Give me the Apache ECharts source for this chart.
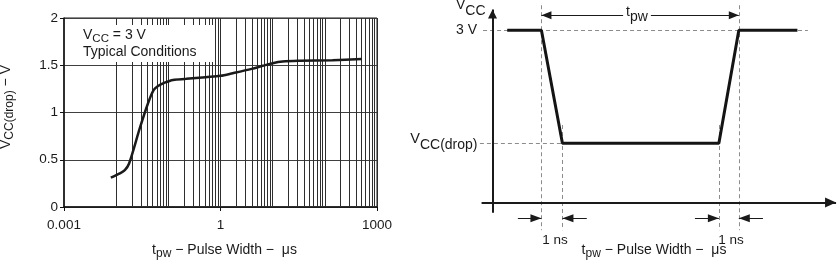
<!DOCTYPE html>
<html><head><meta charset="utf-8">
<script src="https://cdn.jsdelivr.net/npm/echarts@6/dist/echarts.min.js"></script>
<style>html,body{margin:0;padding:0;background:#fff}#c{width:837px;height:261px}</style>
</head><body><div id="c"></div>
<script>
// ---------- Left chart: V_CC(drop) vs pulse width ----------
const pulseWidth_us = [0.0079, 0.01175, 0.01465, 0.0177, 0.0283, 0.0408, 0.0525, 0.0635, 0.0851, 0.1228, 0.221, 0.517, 1.0, 1.72, 3.96, 6.43, 10, 15.5, 32.3, 140, 511];
const vccDrop_V    = [0.31, 0.355, 0.39, 0.46, 0.832, 1.098, 1.239, 1.281, 1.316, 1.345, 1.356, 1.374, 1.388, 1.416, 1.462, 1.494, 1.522, 1.539, 1.547, 1.554, 1.565];
const xTickValues = [0.001, 1, 1000];
const xTickLabels = ['0.001', '1', '1000'];
const yTickLabels = ['0', '0.5', '1', '1.5', '2'];
const decadeExponents = [-3, -2, -1, 0, 1, 2];
const decadeMultipliers = [1, 2, 3, 4, 5, 6, 7, 8, 9];

// ---------- Right diagram: V_CC pulse schematic ----------
const waveTime_ns = [0.7, 2.33, 3.33, 10.78, 11.73, 14.52];
const waveLevel_V = [3, 3, 1.03, 1.03, 3, 3];
const edgeTimes_ns = [2.33, 3.33, 10.78, 11.73];   // fall start, fall end, rise start, rise end
const vccLevel = 3, dropLevel = 1.03;

const FONT = 'Liberation Sans, Arial, Helvetica, sans-serif';
const INK = '#1a1a1a';

const gridValues = [];
decadeExponents.forEach(e => decadeMultipliers.forEach(m => {
  gridValues.push(Number((m * Math.pow(10, e)).toPrecision(6)));
}));
gridValues.push(1000);

const curve = pulseWidth_us.map((x, i) => [x, vccDrop_V[i]]);
const wave = waveTime_ns.map((t, i) => [t, waveLevel_V[i]]);

const [tF0, tF1, tR0, tR1] = edgeTimes_ns;
const dimY = -0.275, pwY = 3.26;
const dash = {type: [4, 3], color: '#8c8c8c', width: 1};
function seg(a, b, style) { return [{coord: a, lineStyle: style}, {coord: b}]; }
function arrowEnd(a, b, style, size) {
  return [{coord: a, lineStyle: style, symbol: 'none'},
          {coord: b, symbol: 'triangle', symbolSize: size, symbolOffset: [0, size[1] / 2]}];
}
function arrowBoth(a, b, style, size) {
  return [{coord: a, lineStyle: style, symbol: 'triangle', symbolSize: size, symbolOffset: [0, size[1] / 2]},
          {coord: b, symbol: 'triangle', symbolSize: size, symbolOffset: [0, size[1] / 2]}];
}
const solid1 = {type: 'solid', color: INK, width: 1};
const solid2 = {type: 'solid', color: INK, width: 2};

// subscript: pushed down by padding-top (shift = pad/2)
const sub = (fs, pad) => ({fontSize: fs, padding: [pad, 0, 0, 0], fontFamily: FONT, fill: INK, color: INK});
const main = (fs) => ({fontSize: fs, fontFamily: FONT, fill: INK, color: INK});

const chart = echarts.init(document.getElementById('c'), null, {renderer: 'canvas'});
chart.setOption({
  animation: false,
  backgroundColor: '#fff',
  grid: [
    {left: 64, top: 18, width: 313, height: 189, show: true, borderColor: '#1a1a1a', borderWidth: 1, containLabel: false, outerBoundsMode: 'none'},
    {left: 420, right: 0, top: 0, bottom: 0, show: false, containLabel: false, outerBoundsMode: 'none'}
  ],
  xAxis: [
    {type: 'log', logBase: 10, gridIndex: 0, min: 0.001, max: 1000,
     axisLine: {show: true, onZero: false, lineStyle: {color: '#111', width: 1.5}},
     axisTick: {show: true, customValues: xTickValues, length: 4, lineStyle: {color: '#111'}},
     axisLabel: {customValues: xTickValues, margin: 11, fontSize: 13.5, fontFamily: FONT, color: INK,
       formatter: v => { let best = 0; xTickValues.forEach((t, i) => { if (Math.abs(Math.log10(t) - Math.log10(v)) < Math.abs(Math.log10(xTickValues[best]) - Math.log10(v))) best = i; }); return xTickLabels[best]; }},
     splitLine: {show: false}, minorTick: {show: false}, minorSplitLine: {show: false}},
    {type: 'value', gridIndex: 1, min: -3.452, max: 16.405, show: false}
  ],
  yAxis: [
    {type: 'value', gridIndex: 0, min: 0, max: 2, interval: 0.5,
     axisLine: {show: true, onZero: false, lineStyle: {color: '#111', width: 1.5}},
     axisTick: {show: true, length: 4, lineStyle: {color: '#111'}},
     axisLabel: {margin: 6, fontSize: 13.5, fontFamily: FONT, color: INK, formatter: (v, i) => yTickLabels[i]},
     splitLine: {show: true, lineStyle: {color: '#404040', width: 1}}},
    {type: 'value', gridIndex: 1, min: -1.0186, max: 3.526, show: false}
  ],
  series: [
    {type: 'line', xAxisIndex: 0, yAxisIndex: 0, data: curve, smooth: 0.3, symbol: 'none', z: 10,
     lineStyle: {color: INK, width: 2.5},
     markLine: {silent: true, z: 3, symbol: 'none', animation: false, label: {show: false},
       lineStyle: {type: 'solid', color: '#2e2e2e', width: 1},
       data: gridValues.map(v => ({xAxis: v}))}},
    {type: 'line', xAxisIndex: 1, yAxisIndex: 1, data: wave, symbol: 'none', z: 10,
     lineStyle: {color: '#141414', width: 3},
     markLine: {silent: true, z: 3, symbol: 'none', animation: false, label: {show: false},
       data: [
         seg([-0.45, vccLevel], [15.02, vccLevel], dash),
         seg([-0.6, dropLevel], [4.49, dropLevel], dash),
         seg([tF0, 3.435], [tF0, -0.482], dash),
         seg([tR1, 3.435], [tR1, -0.482], dash),
         seg([tF1, 1.35], [tF1, -0.482], dash),
         seg([tR0, 1.35], [tR0, -0.482], dash),
         arrowEnd([-0.52, 0], [16.36, 0], solid2, [10, 11]),
         arrowEnd([0, -0.18], [0, 3.36], solid2, [9, 9]),
         arrowBoth([tF0, pwY], [tR1, pwY], solid1, [8, 10]),
         arrowEnd([1.21, dimY], [tF0, dimY], solid1, [8, 11]),
         arrowEnd([4.49, dimY], [tF1, dimY], solid1, [8, 11]),
         arrowEnd([9.64, dimY], [tR0, dimY], solid1, [8, 11]),
         arrowEnd([12.88, dimY], [tR1, dimY], solid1, [8, 11])
       ]}}
  ],
  graphic: [
    // left annotation box
    {type: 'rect', z: 20, shape: {x: 80, y: 25, width: 133, height: 37}, style: {fill: '#fff'}},
    {type: 'text', z: 21, x: 83, y: 35, style: {text: '{m|V}{s|CC}{m| = 3 V}', verticalAlign: 'middle', align: 'left',
      rich: {m: main(14), s: sub(11.5, 8)}}},
    {type: 'text', z: 21, x: 83, y: 52.5, style: {text: 'Typical Conditions', font: '14px ' + FONT, fill: INK, verticalAlign: 'middle', align: 'left'}},
    // left axis titles
    {type: 'text', z: 21, x: 6, y: 107, rotation: Math.PI / 2, style: {text: '{m|V}{s|CC(drop)}{m| − V}', align: 'center', verticalAlign: 'middle',
      rich: {m: main(14), s: sub(12, 8)}}},
    {type: 'text', z: 21, x: 224.5, y: 250, style: {text: '{m|t}{s|pw}{m| − Pulse Width −  μs}', align: 'center', verticalAlign: 'middle',
      rich: {m: main(14), s: sub(12, 8)}}},
    // right diagram labels
    {type: 'text', z: 21, x: 456, y: 5, style: {text: '{m|V}{s|CC}', align: 'left', verticalAlign: 'middle',
      rich: {m: main(14), s: sub(14, 12)}}},
    {type: 'text', z: 21, x: 477, y: 30, style: {text: '3 V', font: '14px ' + FONT, fill: INK, align: 'right', verticalAlign: 'middle'}},
    {type: 'text', z: 21, x: 477.5, y: 139, style: {text: '{m|V}{s|CC(drop)}', align: 'right', verticalAlign: 'middle',
      rich: {m: main(14.5), s: sub(14, 12)}}},
    {type: 'text', z: 21, x: 637, y: 12, style: {text: '{m|t}{s|pw}', align: 'center', verticalAlign: 'middle', backgroundColor: '#fff', padding: [0, 3],
      rich: {m: main(14), s: sub(14, 10)}}},
    {type: 'text', z: 21, x: 555, y: 240, style: {text: '1 ns', font: '13.5px ' + FONT, fill: INK, align: 'center', verticalAlign: 'middle'}},
    {type: 'text', z: 21, x: 731, y: 240, style: {text: '1 ns', font: '13.5px ' + FONT, fill: INK, align: 'center', verticalAlign: 'middle'}},
    {type: 'text', z: 21, x: 654, y: 250, style: {text: '{m|t}{s|pw}{m| − Pulse Width −  μs}', align: 'center', verticalAlign: 'middle',
      rich: {m: main(14), s: sub(12, 8)}}}
  ]
});
</script></body></html>
